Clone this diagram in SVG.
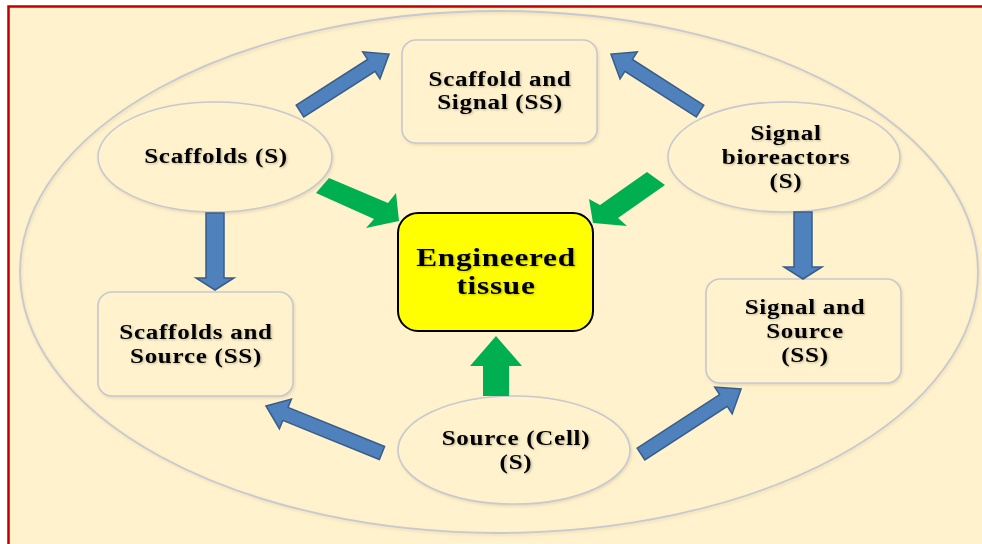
<svg xmlns="http://www.w3.org/2000/svg" width="982" height="544" viewBox="0 0 982 544">
  <defs>
    <filter id="soft" x="-10%" y="-10%" width="120%" height="120%">
      <feDropShadow dx="1" dy="1.5" stdDeviation="1.5" flood-color="#b8a888" flood-opacity="0.35"/>
    </filter>
    <filter id="txtShadow" x="-10%" y="-20%" width="120%" height="140%">
      <feDropShadow dx="1" dy="1" stdDeviation="0.8" flood-color="#000" flood-opacity="0.25"/>
    </filter>
  </defs>
  <style>
    .node { fill: #FFF2CC; stroke: #C6C9D0; stroke-width: 1.6; filter: url(#soft); }
    .core { fill: #FFFF00; stroke: #000; stroke-width: 2; }
    .ring { fill: none; stroke: #C6C9D0; stroke-width: 1.8; filter: url(#soft); }
    .blue { fill: #4F81BD; stroke: #385D8A; stroke-width: 1.5; stroke-linejoin: miter; }
    .green { fill: #00B050; }
    .lbl { font-family: "Liberation Serif", "Times New Roman", serif; font-weight: bold; font-size: 20px; letter-spacing: 0.6px; fill: #000; text-anchor: middle; filter: url(#txtShadow); }
    .big { font-size: 25px; }
  </style>

  <!-- page and frame -->
  <rect x="0" y="0" width="982" height="544" fill="#FFFFFF"/>
  <rect x="8.5" y="6.5" width="990" height="560" fill="#FFF2CC" stroke="#C00000" stroke-width="2.5"/>

  <!-- enclosing ellipse -->
  <ellipse class="ring" cx="499" cy="272" rx="479" ry="261"/>

  <g id="scaffold-signal">
    <rect class="node" x="402" y="40" width="195" height="103" rx="14"/>
    <g transform="translate(500 0) scale(1.25 1)">
      <text class="lbl" x="0" y="86">Scaffold and</text>
      <text class="lbl" x="0" y="109">Signal (SS)</text>
    </g>
  </g>

  <g id="scaffolds">
    <ellipse class="node" cx="215" cy="157" rx="117" ry="55"/>
    <g transform="translate(216 0) scale(1.25 1)">
      <text class="lbl" x="0" y="163">Scaffolds (S)</text>
    </g>
  </g>

  <g id="signal-bioreactors">
    <ellipse class="node" cx="784" cy="157" rx="116" ry="55"/>
    <g transform="translate(786 0) scale(1.25 1)">
      <text class="lbl" x="0" y="140">Signal</text>
      <text class="lbl" x="0" y="164">bioreactors</text>
      <text class="lbl" x="0" y="188">(S)</text>
    </g>
  </g>

  <g id="engineered-tissue">
    <rect class="core" x="398" y="213" width="195" height="118" rx="20"/>
    <g transform="translate(496 0) scale(1.25 1)">
      <text class="lbl big" x="0" y="266">Engineered</text>
      <text class="lbl big" x="0" y="294">tissue</text>
    </g>
  </g>

  <g id="scaffolds-source">
    <rect class="node" x="98" y="292" width="195" height="104" rx="14"/>
    <g transform="translate(196 0) scale(1.25 1)">
      <text class="lbl" x="0" y="339">Scaffolds and</text>
      <text class="lbl" x="0" y="363">Source (SS)</text>
    </g>
  </g>

  <g id="signal-source">
    <rect class="node" x="706" y="279" width="195" height="104" rx="14"/>
    <g transform="translate(805 0) scale(1.25 1)">
      <text class="lbl" x="0" y="314">Signal and</text>
      <text class="lbl" x="0" y="338">Source</text>
      <text class="lbl" x="0" y="362">(SS)</text>
    </g>
  </g>

  <g id="source-cell">
    <ellipse class="node" cx="514" cy="450" rx="116" ry="54"/>
    <g transform="translate(516 0) scale(1.25 1)">
      <text class="lbl" x="0" y="445">Source (Cell)</text>
      <text class="lbl" x="0" y="469">(S)</text>
    </g>
  </g>

  <g id="connectors">
    <!-- blue block arrows between the outer nodes -->
    <path class="blue" d="M0,-7 H84.7 V-16 L105.7,0 L84.7,16 V7 H0 Z" transform="translate(300 111) rotate(-32.6)"/>
    <path class="blue" d="M0,-7 H84.7 V-16 L105.7,0 L84.7,16 V7 H0 Z" transform="translate(700 111) rotate(-147.4)"/>
    <path class="blue" d="M0,-9 H65 V-19 L77,0 L65,19 V9 H0 Z" transform="translate(215 213) rotate(90)"/>
    <path class="blue" d="M0,-9 H55 V-19 L67,0 L55,19 V9 H0 Z" transform="translate(803 212) rotate(90)"/>
    <path class="blue" d="M0,-7 H104.2 V-16 L125.2,0 L104.2,16 V7 H0 Z" transform="translate(382 453) rotate(-157.95)"/>
    <path class="blue" d="M0,-7 H98.3 V-16 L119.3,0 L98.3,16 V7 H0 Z" transform="translate(641 454) rotate(-33)"/>
    <!-- green arrows into the engineered tissue -->
    <polygon class="green" points="329,178 388,203 396,193 399,221 366,228 374,219 316,193"/>
    <polygon class="green" points="647,172 665,185 618,218 627,226 593,223 589,199 600,205"/>
    <polygon class="green" points="483,396 483,366 470,366 496,336 522,366 509,366 509,396"/>
  </g>
</svg>
